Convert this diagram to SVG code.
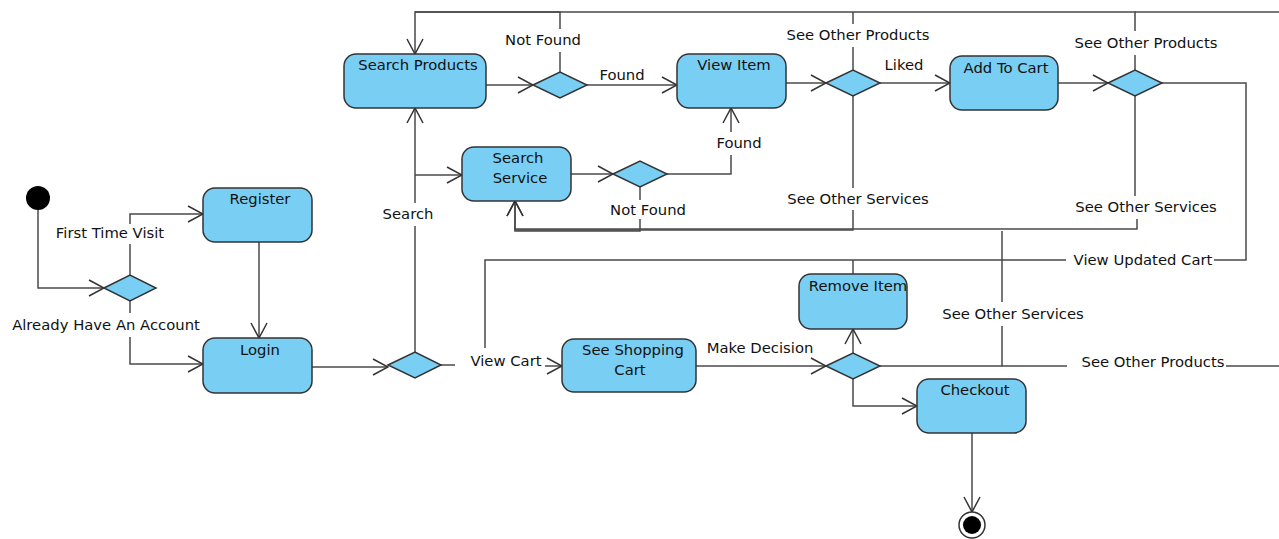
<svg xmlns="http://www.w3.org/2000/svg" width="1279" height="539" viewBox="0 0 1279 539">
<style>
.n{fill:#79cef4;stroke:#333;stroke-width:1.5}
.c{fill:none;stroke:#4a4a4a;stroke-width:1.5}
.t{font-family:"DejaVu Sans",sans-serif;font-size:14.8px;fill:#111;text-anchor:middle}
</style>
<defs>
<marker id="a" viewBox="0 0 17 18" refX="16" refY="9" markerWidth="17" markerHeight="18" orient="auto" markerUnits="userSpaceOnUse">
<path d="M1,1 L16,9 L1,17" fill="none" stroke="#333" stroke-width="1.5"/>
</marker>
</defs>
<rect width="1279" height="539" fill="#fff"/>
<g id="connectors">
<path class="c" d="M38,210 V288 H104" marker-end="url(#a)"/>
<path class="c" d="M130,275 V244"/>
<path class="c" d="M130,224 V214 H203" marker-end="url(#a)"/>
<path class="c" d="M130,301 V313"/>
<path class="c" d="M130,337 V364 H203" marker-end="url(#a)"/>
<path class="c" d="M259,242 V338" marker-end="url(#a)"/>
<path class="c" d="M312,367 H388" marker-end="url(#a)"/>
<path class="c" d="M415,352 V226"/>
<path class="c" d="M415,203 V108" marker-end="url(#a)"/>
<path class="c" d="M415,175 H462" marker-end="url(#a)"/>
<path class="c" d="M441,365 H455"/>
<path class="c" d="M545,366 H562" marker-end="url(#a)"/>
<path class="c" d="M486,85 H533" marker-end="url(#a)"/>
<path class="c" d="M560,72 V52"/>
<path class="c" d="M560,29 V12 H415 V54" marker-end="url(#a)"/>
<path class="c" d="M587,85 H677" marker-end="url(#a)"/>
<path class="c" d="M786,83 H826" marker-end="url(#a)"/>
<path class="c" d="M853,70 V47"/>
<path class="c" d="M853,24 V12"/>
<path class="c" d="M880,83 H950" marker-end="url(#a)"/>
<path class="c" d="M853,96 V188"/>
<path class="c" d="M853,210 V230 H515 V201" marker-end="url(#a)"/>
<path class="c" d="M1058,83 H1108" marker-end="url(#a)"/>
<path class="c" d="M1135,70 V55"/>
<path class="c" d="M1135,31 V12 H415"/>
<path class="c" d="M1135,12 H1279"/>
<path class="c" d="M1135,96 V196"/>
<path class="c" d="M1137,219 V229 H515"/>
<path class="c" d="M1162,83 H1246 V260 H1214"/>
<path class="c" d="M1066,260 H485 V348"/>
<path class="c" d="M571,174 H613" marker-end="url(#a)"/>
<path class="c" d="M667,174 H731 V155"/>
<path class="c" d="M731,132 V108" marker-end="url(#a)"/>
<path class="c" d="M640,187 V200"/>
<path class="c" d="M640,219 V231 H515 V201" marker-end="url(#a)"/>
<path class="c" d="M696,366 H826" marker-end="url(#a)"/>
<path class="c" d="M853,353 V329" marker-end="url(#a)"/>
<path class="c" d="M853,379 V406 H917" marker-end="url(#a)"/>
<path class="c" d="M853,274 V260"/>
<path class="c" d="M880,366 H1002 V326"/>
<path class="c" d="M1002,302 V231"/>
<path class="c" d="M1002,366 H1067"/>
<path class="c" d="M1226,366 H1279"/>
<path class="c" d="M972,433 V512" marker-end="url(#a)"/>
</g>
<g id="labels">
<text class="t" x="110" y="238">First Time Visit</text>
<text class="t" x="106" y="330">Already Have An Account</text>
<text class="t" x="408" y="219">Search</text>
<text class="t" x="543" y="45">Not Found</text>
<text class="t" x="622" y="80">Found</text>
<text class="t" x="858" y="40">See Other Products</text>
<text class="t" x="904" y="70">Liked</text>
<text class="t" x="858" y="204">See Other Services</text>
<text class="t" x="1146" y="48">See Other Products</text>
<text class="t" x="1146" y="212">See Other Services</text>
<text class="t" x="739" y="148">Found</text>
<text class="t" x="648" y="215">Not Found</text>
<text class="t" x="1143" y="265">View Updated Cart</text>
<text class="t" x="506" y="366">View Cart</text>
<text class="t" x="760" y="353">Make Decision</text>
<text class="t" x="1013" y="319">See Other Services</text>
<text class="t" x="1153" y="367">See Other Products</text>
</g>
<g id="start"><circle cx="38" cy="198" r="12" fill="#000"/></g>
<g id="d1"><polygon class="n" points="104,288 130,275 156,288 130,301"/></g>
<g id="register"><rect class="n" x="203" y="188" width="109" height="54" rx="12"/><text class="t" x="260" y="204">Register</text></g>
<g id="login"><rect class="n" x="203" y="338" width="109" height="55" rx="12"/><text class="t" x="260" y="355">Login</text></g>
<g id="d2"><polygon class="n" points="388,365 415,352 441,365 415,378"/></g>
<g id="searchProducts"><rect class="n" x="344" y="54" width="142" height="54" rx="12"/><text class="t" x="418" y="70">Search Products</text></g>
<g id="d3"><polygon class="n" points="533,85 560,72 587,85 560,98"/></g>
<g id="viewItem"><rect class="n" x="677" y="54" width="109" height="54" rx="12"/><text class="t" x="734" y="70">View Item</text></g>
<g id="d4"><polygon class="n" points="826,83 853,70 880,83 853,96"/></g>
<g id="addToCart"><rect class="n" x="950" y="56" width="108" height="54" rx="12"/><text class="t" x="1006" y="73">Add To Cart</text></g>
<g id="d5"><polygon class="n" points="1108,83 1135,70 1162,83 1135,96"/></g>
<g id="searchService"><rect class="n" x="462" y="147" width="109" height="54" rx="12"/><text class="t" x="518" y="163">Search</text><text class="t" x="520" y="183">Service</text></g>
<g id="d6"><polygon class="n" points="613,174 640,161 667,174 640,187"/></g>
<g id="seeShoppingCart"><rect class="n" x="562" y="339" width="134" height="53" rx="12"/><text class="t" x="633" y="355">See Shopping</text><text class="t" x="630" y="375">Cart</text></g>
<g id="d7"><polygon class="n" points="826,366 853,353 880,366 853,379"/></g>
<g id="removeItem"><rect class="n" x="799" y="274" width="108" height="55" rx="12"/><text class="t" x="858" y="291">Remove Item</text></g>
<g id="checkout"><rect class="n" x="917" y="379" width="109" height="54" rx="12"/><text class="t" x="975" y="395">Checkout</text></g>
<g id="end"><circle cx="972" cy="525" r="13" fill="#fff" stroke="#333" stroke-width="1.5"/><circle cx="972" cy="525" r="9" fill="#000"/></g>
</svg>
